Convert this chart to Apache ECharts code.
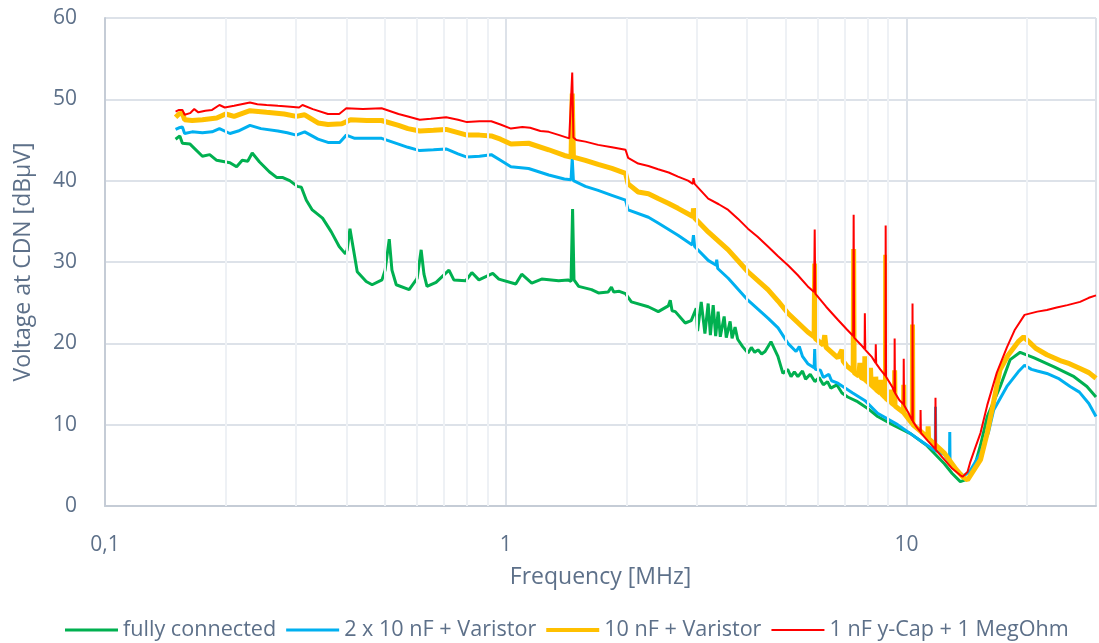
<!DOCTYPE html>
<html><head><meta charset="utf-8">
<script src="https://cdn.jsdelivr.net/npm/echarts@6/dist/echarts.min.js"></script>
<style>html,body{margin:0;padding:0;background:#fff}#c{width:1099px;height:643px}</style>
</head><body><div id="c"></div>
<script>
const seriesNames = ['fully connected', '2 x 10 nF + Varistor', '10 nF + Varistor', '1 nF y-Cap + 1 MegOhm'];
const seriesColors = ['#00b050', '#00b0f0', '#ffc000', '#ff0000'];
const xTickLabels = {0.1: '0,1', 1: '1', 10: '10'};
const minorGridFreqs = [0.2,0.3,0.4,0.5,0.6,0.7,0.8,0.9,2,3,4,5,6,7,8,9,20];

// [frequency MHz, level dBµV]
const fullyConnected = [
[0.150,45.1],[0.1537,45.5],[0.156,44.6],[0.163,44.5],[0.175,43.0],[0.1825,43.2],[0.190,42.5],[0.205,42.2],[0.213,41.7],[0.220,42.5],[0.227,42.4],[0.233,43.4],[0.243,42.3],[0.257,41.1],[0.268,40.4],[0.277,40.4],[0.289,40.0],[0.302,39.3],[0.309,39.2],[0.318,37.6],[0.329,36.4],[0.349,35.4],[0.367,33.7],[0.384,31.9],[0.398,31.0],[0.402,31.5],[0.4085,34.1],[0.417,31.5],[0.426,28.8],[0.4485,27.6],[0.464,27.2],[0.491,27.8],[0.50,29.0],[0.512,32.8],[0.52,29.0],[0.533,27.2],[0.574,26.6],[0.601,28.0],[0.615,31.5],[0.625,28.5],[0.636,27.0],[0.670,27.5],[0.7215,29.0],[0.742,27.8],[0.795,27.7],[0.823,28.7],[0.857,27.8],[0.928,28.6],[0.961,27.9],[1.059,27.3],[1.096,28.5],[1.161,27.4],[1.229,27.9],[1.355,27.7],[1.43,27.8],[1.455,27.6],[1.468,36.5],[1.48,27.8],[1.52,27.0],[1.637,26.6],[1.703,26.2],[1.80,26.3],[1.835,26.9],[1.86,26.3],[1.92,26.4],[1.989,26.1],[2.058,25.1],[2.268,24.5],[2.402,23.9],[2.544,24.6],[2.573,25.3],[2.60,24.0],[2.649,23.9],[2.804,22.5],[2.902,22.8],[2.987,24.3],[3.01,21.5],[3.074,25.1],[3.14,21.2],[3.199,24.9],[3.24,21.0],[3.293,24.7],[3.34,20.9],[3.388,23.9],[3.43,20.8],[3.507,23.3],[3.55,20.7],[3.629,22.7],[3.67,20.6],[3.734,22.0],[3.79,20.5],[3.9,19.6],[4.022,18.8],[4.1,19.5],[4.18,18.9],[4.26,19.2],[4.35,18.7],[4.436,19.0],[4.589,20.2],[4.776,18.4],[4.915,16.3],[5.05,16.8],[5.15,15.9],[5.25,16.5],[5.357,15.9],[5.5,16.6],[5.6,15.6],[5.75,16.2],[5.904,15.3],[6.05,15.8],[6.2,14.9],[6.35,15.3],[6.472,14.5],[6.7,14.9],[6.9,13.9],[7.133,13.4],[7.5,12.9],[8.0,12.0],[8.472,11.0],[9.3,9.9],[10.23,8.9],[11.2,7.5],[12.43,5.2],[13.0,4.0],[13.62,3.0],[14.2,3.3],[14.77,4.8],[15.3,7.5],[15.9,11.0],[17.13,14.7],[18.14,18.0],[19.21,18.9],[20.82,18.2],[23.34,17.1],[26.18,15.9],[28.19,14.7],[29.7,13.4]
];

const twoTenNfVaristor = [
[0.150,46.3],[0.153,46.5],[0.156,46.6],[0.158,45.8],[0.165,46.0],[0.175,45.9],[0.185,46.0],[0.193,46.4],[0.205,45.8],[0.215,46.1],[0.23,46.8],[0.245,46.4],[0.27,46.1],[0.285,45.9],[0.30,45.6],[0.315,46.0],[0.34,45.1],[0.36,44.7],[0.385,44.7],[0.40,45.6],[0.42,45.2],[0.49,45.2],[0.54,44.5],[0.57,44.1],[0.61,43.7],[0.66,43.8],[0.71,43.9],[0.76,43.3],[0.80,42.9],[0.86,43.0],[0.92,43.2],[0.97,42.5],[1.03,41.7],[1.14,41.5],[1.28,40.7],[1.40,40.2],[1.455,40.1],[1.465,42.7],[1.475,40.0],[1.58,39.3],[1.70,38.8],[1.84,38.2],[1.99,37.6],[2.02,36.4],[2.27,35.5],[2.40,34.8],[2.69,33.3],[2.92,32.1],[2.94,33.3],[2.96,31.9],[3.20,30.2],[3.35,29.6],[3.36,30.3],[3.38,29.2],[3.59,28.0],[4.02,25.3],[4.51,23.1],[4.78,21.9],[5.06,20.0],[5.3,19.0],[5.4,19.6],[5.5,18.4],[5.67,17.5],[5.88,17.0],[5.90,19.3],[5.92,16.8],[6.1,16.7],[6.2,15.8],[6.4,16.2],[6.5,15.4],[6.74,15.1],[7.34,13.9],[7.9,12.9],[8.47,11.4],[9.5,10.0],[10.23,8.9],[11.0,7.8],[11.8,6.8],[11.81,12.2],[11.83,6.8],[12.43,6.3],[12.8,5.4],[12.82,9.1],[12.84,5.3],[13.4,4.3],[13.9,3.7],[14.4,4.3],[15.3,6.5],[16.0,9.0],[16.5,11.8],[17.8,14.7],[19.0,16.5],[19.7,17.3],[20.5,16.8],[21.2,16.6],[22.4,16.3],[23.9,15.7],[25.6,14.7],[27.0,14.0],[28.5,12.6],[29.7,11.0]
];

const tenNfVaristor = [
[0.150,47.8],[0.153,48.2],[0.156,48.3],[0.158,47.5],[0.165,47.4],[0.175,47.5],[0.19,47.7],[0.20,48.2],[0.21,47.9],[0.23,48.6],[0.253,48.4],[0.28,48.2],[0.30,47.9],[0.315,48.1],[0.34,47.1],[0.36,46.9],[0.39,47.0],[0.41,47.5],[0.45,47.4],[0.49,47.4],[0.54,46.8],[0.57,46.4],[0.61,46.1],[0.66,46.2],[0.71,46.3],[0.76,45.9],[0.80,45.6],[0.86,45.6],[0.92,45.5],[0.97,45.1],[1.03,44.5],[1.14,44.6],[1.28,43.8],[1.40,43.1],[1.455,42.9],[1.465,50.7],[1.475,42.9],[1.58,42.5],[1.70,42.0],[1.84,41.5],[1.99,40.9],[2.02,39.6],[2.14,38.6],[2.27,38.4],[2.40,37.8],[2.55,37.2],[2.69,36.6],[2.93,35.6],[2.94,36.6],[2.96,35.4],[3.20,33.7],[3.59,31.5],[4.02,28.8],[4.51,26.6],[4.78,25.2],[5.06,23.7],[5.67,21.4],[5.88,20.8],[5.90,29.8],[5.92,20.6],[6.2,19.8],[6.25,21.0],[6.3,19.5],[6.74,18.2],[6.9,19.2],[6.95,17.8],[7.10,17.2],[7.36,16.6],[7.38,31.6],[7.40,16.4],[7.6,16.0],[7.65,17.6],[7.7,15.8],[7.86,15.6],[7.87,18.4],[7.89,15.5],[8.1,15.0],[8.13,17.0],[8.16,14.9],[8.37,14.4],[8.38,15.9],[8.40,14.3],[8.6,13.9],[8.63,15.5],[8.66,13.8],[8.86,13.3],[8.87,30.9],[8.89,13.2],[9.1,12.8],[9.13,14.3],[9.16,12.7],[9.33,12.4],[9.34,16.7],[9.36,12.3],[9.83,11.5],[9.84,14.9],[9.86,11.4],[10.23,10.4],[10.34,10.1],[10.35,22.3],[10.37,10.0],[10.83,9.2],[11.3,8.4],[11.32,9.8],[11.35,8.3],[12.43,6.5],[13.3,4.5],[13.8,3.6],[14.2,3.2],[14.8,4.6],[15.3,5.7],[15.9,9.0],[16.4,12.2],[17.1,16.7],[17.9,18.5],[19.0,20.2],[19.6,20.8],[20.4,20.0],[21.0,19.4],[22.4,18.6],[24.4,17.8],[25.5,17.5],[27.1,16.9],[28.5,16.4],[29.7,15.7]
];

const oneNfYCap = [
[0.150,48.5],[0.153,48.7],[0.156,48.7],[0.158,48.1],[0.163,48.3],[0.167,48.8],[0.171,48.4],[0.178,48.6],[0.185,48.7],[0.193,49.3],[0.199,49.0],[0.21,49.2],[0.23,49.6],[0.24,49.4],[0.253,49.3],[0.27,49.2],[0.29,49.1],[0.305,49.0],[0.311,49.3],[0.33,48.8],[0.36,48.2],[0.384,48.2],[0.40,48.9],[0.44,48.8],[0.49,48.9],[0.54,48.2],[0.57,47.9],[0.61,47.5],[0.65,47.6],[0.71,47.8],[0.76,47.5],[0.80,47.2],[0.86,47.3],[0.92,47.3],[0.97,46.9],[1.03,46.4],[1.10,46.6],[1.15,46.5],[1.22,46.1],[1.28,46.0],[1.36,45.6],[1.44,45.2],[1.455,45.3],[1.465,53.3],[1.475,45.3],[1.50,45.0],[1.58,44.8],[1.70,44.4],[1.84,44.1],[1.99,43.8],[2.02,42.8],[2.14,42.1],[2.27,41.8],[2.40,41.4],[2.55,41.0],[2.69,40.5],[2.85,40.0],[2.93,39.6],[2.94,40.3],[2.96,39.6],[3.20,37.8],[3.40,37.1],[3.59,36.4],[3.80,35.3],[4.02,34.1],[4.25,33.1],[4.51,31.9],[4.78,30.7],[5.06,29.6],[5.35,28.4],[5.67,27.0],[5.88,26.3],[5.90,34.0],[5.92,26.1],[6.30,24.5],[6.74,22.9],[7.10,21.7],[7.36,20.9],[7.38,35.8],[7.40,20.7],[7.70,19.8],[7.86,19.3],[7.87,23.7],[7.89,19.2],[8.20,18.3],[8.37,17.6],[8.38,19.9],[8.40,17.5],[8.60,16.8],[8.86,16.0],[8.87,34.5],[8.89,15.9],[9.20,14.7],[9.33,14.0],[9.34,20.6],[9.36,13.9],[9.60,13.0],[9.83,12.5],[9.84,18.1],[9.86,12.4],[10.10,11.5],[10.34,10.5],[10.35,24.9],[10.37,10.4],[10.60,9.7],[10.83,9.1],[10.84,11.8],[10.86,9.0],[11.3,8.0],[11.80,7.0],[11.81,13.3],[11.83,6.9],[12.43,5.7],[13.0,4.6],[13.6,3.8],[13.8,3.6],[14.2,4.2],[14.4,5.3],[14.8,7.0],[15.3,9.0],[15.9,12.4],[16.8,16.4],[17.8,19.5],[18.6,21.6],[19.7,23.5],[21.2,23.9],[22.4,24.1],[23.7,24.4],[25.2,24.7],[27.1,25.1],[28.5,25.6],[29.7,25.9]
];

const seriesData = [fullyConnected, twoTenNfVaristor, tenNfVaristor, oneNfYCap];
const seriesWidths = [3, 3, 5, 2];
const legendIconThickness = [3, 3, 4, 2];

const textColor = '#5d7089';
const fontFamily = 'Open Sans';

const chart = echarts.init(document.getElementById('c'), null, {renderer: 'canvas'});
const series = [{
  type: 'line', data: [], silent: true, z: 1,
  markLine: {
    silent: true, symbol: ['none', 'none'], label: {show: false},
    lineStyle: {color: '#eef1f5', width: 2, type: 'solid'},
    data: minorGridFreqs.map(f => ({xAxis: f})),
    animation: false
  }
}];
seriesData.forEach((d, i) => {
  series.push({
    name: seriesNames[i], type: 'line', data: d, showSymbol: false, symbol: 'none',
    z: 2 + i, lineStyle: {color: seriesColors[i], width: seriesWidths[i]},
    itemStyle: {color: seriesColors[i]}, smooth: false
  });
});

chart.setOption({
  animation: false,
  backgroundColor: '#ffffff',
  grid: {left: 105, right: 0, top: 18, bottom: 137, containLabel: false},
  xAxis: {
    type: 'log', logBase: 10, min: 0.1, max: 29.7,
    name: 'Frequency [MHz]', nameLocation: 'middle', nameGap: 60,
    nameTextStyle: {color: textColor, fontSize: 23, fontFamily},
    axisLine: {show: true, lineStyle: {color: '#c5ccd6', width: 2}},
    axisTick: {show: false},
    axisLabel: {color: textColor, fontSize: 21, fontFamily, margin: 29,
      formatter: v => { for (const k in xTickLabels) { if (Math.abs(v - Number(k)) < 1e-6) return xTickLabels[k]; } return ''; }},
    splitLine: {show: true, lineStyle: {color: '#dde2e9', width: 2}},
    minorTick: {show: false}, minorSplitLine: {show: false}
  },
  yAxis: {
    type: 'value', min: 0, max: 60, interval: 10,
    name: 'Voltage at CDN [dBμV]', nameLocation: 'middle', nameGap: 70, nameRotate: 90,
    nameTextStyle: {color: textColor, fontSize: 23, fontFamily},
    axisLine: {show: true, lineStyle: {color: '#c5ccd6', width: 2}},
    axisTick: {show: false},
    axisLabel: {color: textColor, fontSize: 21, fontFamily, margin: 28},
    splitLine: {show: true, lineStyle: {color: '#dde2e9', width: 2}}
  },
  legend: {
    data: seriesNames.map((n, i) => ({
      name: n,
      icon: 'path://M0,0H53V' + legendIconThickness[i] + 'H0Z',
      itemStyle: {color: seriesColors[i]}
    })),
    left: 60, top: 614, itemWidth: 53, itemHeight: 14, itemGap: 10, symbolKeepAspect: true,
    textStyle: {color: textColor, fontSize: 21.6, fontFamily}
  },
  series
});
</script></body></html>
